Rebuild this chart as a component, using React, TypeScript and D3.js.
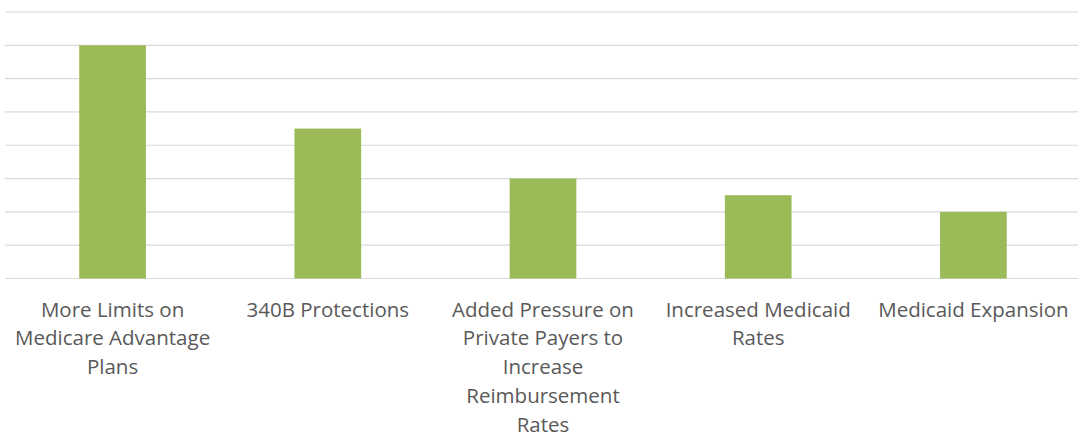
import React from "react";
import * as d3 from "d3";

const categories: string[][] = [
  ["More Limits on", "Medicare Advantage", "Plans"],
  ["340B Protections"],
  ["Added Pressure on", "Private Payers to", "Increase", "Reimbursement", "Rates"],
  ["Increased Medicaid", "Rates"],
  ["Medicaid Expansion"],
];
const values: number[] = [7, 4.5, 3, 2.5, 2];
const gridTicks: number[] = [0, 1, 2, 3, 4, 5, 6, 7, 8];

const W = 1078;
const H = 437;
const left = 5;
const right = 1081;
const top = 12;
const bottom = 278.5;

export default function App() {
  const keys = categories.map((_, i) => String(i));
  const x = d3.scaleBand<string>().domain(keys).range([left, right]).paddingInner(0.69).paddingOuter(0.345);
  const y = d3.scaleLinear().domain([0, 8]).range([bottom, top]);
  return (
    <svg width={W} height={H} style={{ position: "absolute", left: 0, top: 0, background: "#fff" }}>
      {gridTicks.map((t) => (
        <line key={t} x1={left} x2={right} y1={y(t)} y2={y(t)} stroke="#d9d9d9" strokeWidth={1.2} />
      ))}
      {values.map((v, i) => (
        <rect key={i} x={x(String(i))} y={y(v)} width={x.bandwidth()} height={y(0) - y(v)} fill="#9BBB59" />
      ))}
      {categories.map((lines, i) => {
        const cx = (x(String(i)) as number) + x.bandwidth() / 2;
        return (
          <text key={i} textAnchor="middle" fontFamily="'Open Sans', sans-serif" fontSize={20.5} fill="#595959">
            {lines.map((l, j) => (
              <tspan key={j} x={cx} y={316.5 + j * 28.8}>{l}</tspan>
            ))}
          </text>
        );
      })}
    </svg>
  );
}
